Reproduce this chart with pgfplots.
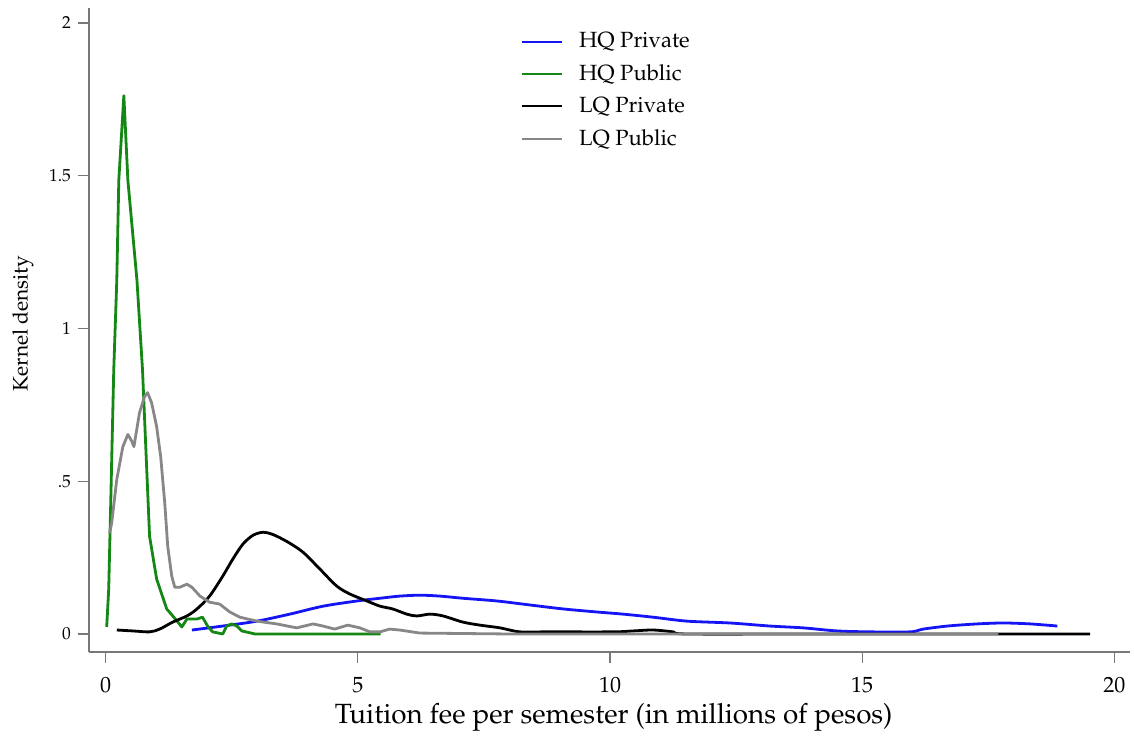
\documentclass[border=0pt]{standalone}
\usepackage[T1]{fontenc}
\usepackage{mathpazo}
\usepackage{pgfplots}
\pgfplotsset{compat=1.18}

\definecolor{hqpriv}{RGB}{20,20,245}
\definecolor{hqpub}{RGB}{20,135,20}
\definecolor{lqpriv}{RGB}{0,0,0}
\definecolor{lqpub}{RGB}{135,135,135}
\definecolor{axisgray}{RGB}{120,120,120}

\begin{document}
\begin{tikzpicture}
\begin{axis}[
  scale only axis,
  width=520.5pt, height=322pt,
  xmin=-0.331, xmax=20.31,
  ymin=-0.059, ymax=2.049,
  axis x line*=bottom, axis y line*=left,
  x axis line style={-, draw=axisgray, line width=0.8pt},
  y axis line style={-, draw=axisgray, line width=0.8pt},
  tick align=outside,
  major tick length=5.5pt,
  tick style={draw=axisgray, line width=0.6pt},
  xtick={0,5,10,15,20},
  ytick={0,0.5,1,1.5,2},
  yticklabels={0,.5,1,1.5,2},
  xticklabel style={font=\fontsize{11}{13}\selectfont, anchor=base, yshift=-14.5pt},
  yticklabel style={font=\fontsize{8.7}{10}\selectfont},
  xlabel={Tuition fee per semester (in millions of pesos)},
  ylabel={Kernel density},
  xlabel style={font=\fontsize{13.9}{16}\selectfont, at={(axis description cs:0.504,0)}, anchor=center, yshift=-32.5pt},
  ylabel style={font=\fontsize{10.5}{12}\selectfont, at={(axis description cs:0,0.51)}, anchor=center, yshift=33pt},
  legend style={draw=none, fill=none, at={(axis description cs:0.4085,0.975)}, anchor=north west,
    font=\fontsize{11}{13}\selectfont, row sep=2.9pt, legend cell align=left},
  legend image code/.code={\draw[#1, line width=1.1pt] (0pt,0pt) -- (20pt,0pt); \path (26pt,0pt);},
  every axis plot/.append style={line width=1.4pt, line join=round},
]
% HQ Private
\addplot[hqpriv, smooth, tension=0.5] coordinates {
 (1.71,0.013) (2.32,0.026) (3.00,0.042) (3.65,0.065) (4.31,0.091) (4.98,0.108)
 (5.44,0.117) (5.83,0.124) (6.23,0.127) (6.63,0.124) (7.08,0.117) (7.76,0.108)
 (8.41,0.095) (9.07,0.082) (9.74,0.072) (10.26,0.065) (10.85,0.055) (11.53,0.042)
 (12.38,0.036) (13.17,0.026) (13.83,0.020) (14.50,0.010) (15.16,0.007) (15.95,0.007)
 (16.21,0.016) (16.69,0.026) (17.28,0.033) (17.80,0.036) (18.33,0.033) (18.87,0.026)
};
\addlegendentry{HQ Private}
% HQ Public
\addplot[hqpub] coordinates {
 (0.02,0.023) (0.06,0.147) (0.10,0.43) (0.16,0.865) (0.22,1.158) (0.26,1.485)
 (0.36,1.762) (0.44,1.485) (0.62,1.158) (0.73,0.865) (0.87,0.32) (1.01,0.18)
 (1.21,0.082) (1.33,0.059) (1.43,0.039) (1.51,0.023) (1.61,0.049) (1.81,0.049)
 (1.92,0.055) (2.02,0.026) (2.12,0.007) (2.32,0.0) (2.40,0.026) (2.50,0.033)
 (2.60,0.026) (2.70,0.010) (2.96,0.0) (4.00,0.0) (5.45,0.0)
};
\addlegendentry{HQ Public}
% LQ Private
\addplot[lqpriv, smooth, tension=0.5] coordinates {
 (0.22,0.013) (0.54,0.010) (0.87,0.007) (1.07,0.016) (1.33,0.039) (1.61,0.059)
 (1.81,0.082) (2.06,0.124) (2.32,0.189) (2.52,0.245) (2.72,0.294) (2.92,0.323)
 (3.12,0.333) (3.31,0.326) (3.59,0.303) (3.91,0.268) (4.25,0.212) (4.58,0.157)
 (4.84,0.131) (5.18,0.108) (5.44,0.091) (5.69,0.082) (5.97,0.065) (6.17,0.059)
 (6.43,0.065) (6.69,0.059) (7.08,0.039) (7.42,0.029) (7.82,0.020) (8.21,0.007)
 (8.75,0.007) (10.06,0.007) (10.46,0.010) (10.85,0.013) (11.25,0.007) (11.53,0.0)
 (14.0,0.0) (17.0,0.0) (19.52,0.0)
};
\addlegendentry{LQ Private}
% LQ Public
\addplot[lqpub] coordinates {
 (0.08,0.33) (0.12,0.365) (0.22,0.506) (0.34,0.613) (0.44,0.653) (0.52,0.630)
 (0.56,0.613) (0.67,0.724) (0.77,0.777) (0.83,0.790) (0.91,0.757) (1.01,0.679)
 (1.09,0.581) (1.17,0.431) (1.23,0.287) (1.31,0.189) (1.37,0.153) (1.47,0.153)
 (1.61,0.163) (1.71,0.153) (1.87,0.124) (2.06,0.104) (2.26,0.098) (2.46,0.072)
 (2.66,0.055) (3.00,0.042) (3.39,0.033) (3.79,0.020) (4.11,0.033) (4.31,0.026)
 (4.54,0.016) (4.80,0.029) (5.04,0.020) (5.24,0.007) (5.44,0.007) (5.63,0.016)
 (5.83,0.013) (6.23,0.003) (8.0,0.0) (12.0,0.0) (17.7,0.0)
};
\addlegendentry{LQ Public}
\end{axis}
\pgfresetboundingbox
\path (-44.5pt,-42pt) rectangle (522.5pt,326pt);
\end{tikzpicture}
\end{document}
